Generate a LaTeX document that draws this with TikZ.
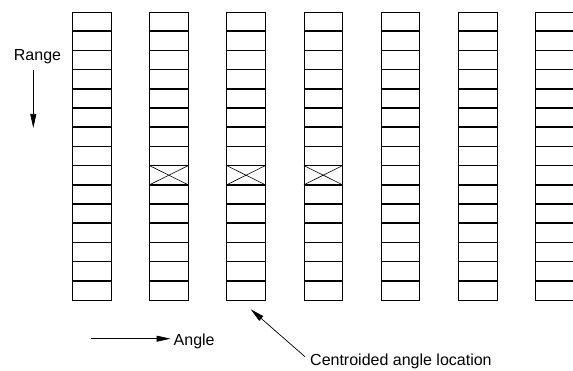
\documentclass[tikz,border=0pt]{standalone}
\usepackage{fontspec}
\setmainfont{Liberation Sans}
\usetikzlibrary{arrows.meta,positioning}
\tikzset{
  cell/.style={rectangle, draw=black, line width=0.7pt, minimum width=38.7pt, minimum height=19.2pt, inner sep=0pt, outer sep=0pt},
  divider/.style={draw=black, line width=1.5pt},
  crossLine/.style={draw=black, line width=0.6pt},
  axisText/.style={font=\fontsize{16pt}{19pt}\selectfont, inner sep=0pt},
  pointer/.style={-{Triangle[length=14pt,width=6pt]}, line width=0.7pt}
}
\begin{document}
\begin{tikzpicture}[x=1pt, y=-1pt]
  \useasboundingbox (0,0) rectangle (573,371);

  % range cells, one column per angle
  \foreach \c in {1,...,7}
    \foreach \r in {1,...,15}
      \node[cell] (c\c-\r) at ({91.65+77.2*(\c-1)}, {21.6+19.2*(\r-1)}) {};

  % heavier row dividers
  \foreach \c in {1,...,7}
    \foreach \r in {1,...,14}
      \draw[divider] (c\c-\r.south west) -- (c\c-\r.south east);

  % detected cells
  \foreach \c in {2,3,4}
    \draw[crossLine] (c\c-9.north west) -- (c\c-9.south east)
                     (c\c-9.south west) -- (c\c-9.north east);

  % Range axis
  \node[axisText, anchor=base] (range) at (37.5,60.7) {Range};
  \coordinate (rTail) at (33.3,70);
  \coordinate (rTip) at (33.3,128);
  \draw[pointer] (rTail) -- (rTip);

  % Angle axis
  \node[axisText, anchor=base west] (angle) at (173.5,345.5) {Angle};
  \coordinate (aTail) at (91,338.7);
  \draw[pointer, shorten >=3pt] (aTail) -- (aTail -| angle.west);

  % centroid pointer
  \node[axisText, anchor=base west] (loc) at (310,365.7) {Centroided angle location};
  \coordinate (locTail) at (305,356.7);
  \coordinate (locTip) at (250.7,309.3);
  \draw[pointer] (locTail) -- (locTip);
\end{tikzpicture}
\end{document}
